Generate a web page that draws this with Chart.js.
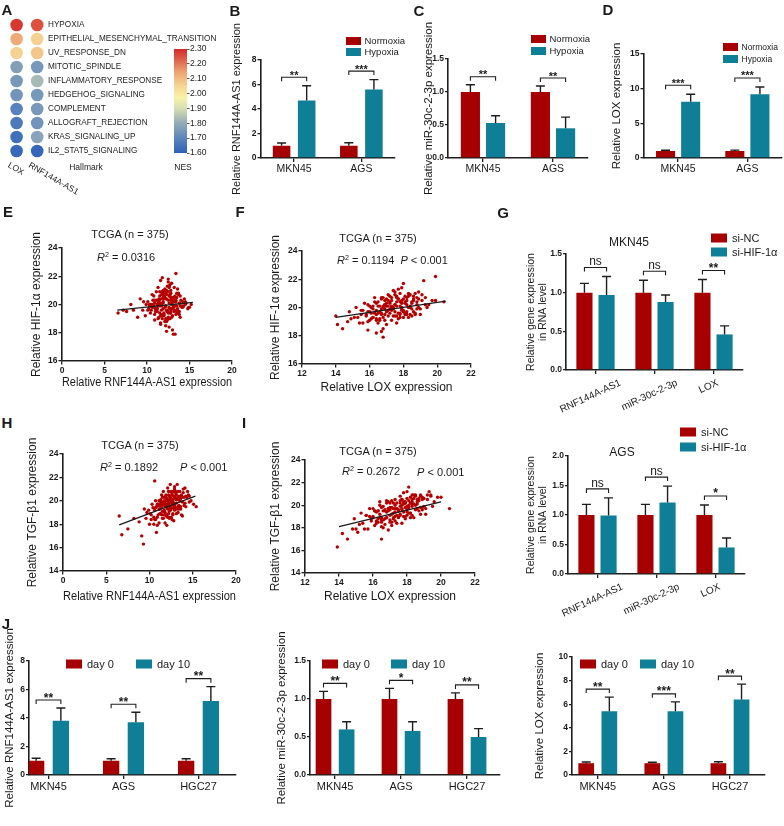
<!DOCTYPE html>
<html><head><meta charset="utf-8">
<script src="https://cdn.jsdelivr.net/npm/chart.js@4.4.1/dist/chart.umd.min.js"></script>
<style>
html,body{margin:0;padding:0;background:#fff}
body{width:784px;height:826px;position:relative;overflow:hidden;font-family:'Liberation Sans',Arial,Helvetica,sans-serif;color:#1a1a1a}
canvas{position:absolute}
.t{position:absolute;white-space:nowrap;line-height:1}
.t sup{font-size:65%;vertical-align:0.55em;line-height:0}
</style></head>
<body>
<script>
// ---------------- DATA ----------------
// Panel A
const hallmarks = ['HYPOXIA','EPITHELIAL_MESENCHYMAL_TRANSITION','UV_RESPONSE_DN','MITOTIC_SPINDLE','INFLAMMATORY_RESPONSE','HEDGEHOG_SIGNALING','COMPLEMENT','ALLOGRAFT_REJECTION','KRAS_SIGNALING_UP','IL2_STAT5_SIGNALING'];
const aGenes = ['LOX','RNF144A-AS1'];
const nesLOX = [2.28,2.13,2.06,1.77,1.75,1.74,1.69,1.67,1.64,1.62];
const nesRNF = [2.25,2.06,2.08,1.75,1.83,1.75,1.75,1.74,1.78,1.61];
const nesMin = 1.6, nesMax = 2.3;

// Panels B-D
const cells2 = ['MKN45','AGS'];
const oxLabels = ['Normoxia','Hypoxia'];
const bNorm = [1.0,1.0], bNormErr = [0.22,0.25], bHyp = [4.7,5.6], bHypErr = [1.2,0.8], bSig = ['**','***'];
const cNorm = [1.0,1.0], cNormErr = [0.11,0.09], cHyp = [0.53,0.45], cHypErr = [0.11,0.17], cSig = ['**','**'];
const dNorm = [1.0,1.0], dNormErr = [0.12,0.14], dHyp = [8.1,9.2], dHypErr = [1.1,1.05], dSig = ['***','***'];

// Scatter E (HIF-1a vs RNF144A-AS1)
const eX = [12.1,11.4,13.2,10.8,12.6,11.9,13.8,12.3,10.5,11.7,12.9,13.5,11.2,12.4,10.9,14.1,12.7,11.5,13.0,12.0,9.8,11.8,12.5,13.3,10.2,11.1,12.8,14.4,11.6,12.2,13.7,10.6,12.0,11.3,13.1,12.6,9.5,11.9,14.0,12.4,10.9,13.4,11.0,12.7,13.9,11.4,12.1,10.4,13.6,12.9,11.7,8.9,12.3,14.6,11.2,13.0,12.5,10.7,11.8,13.2,9.2,12.0,14.8,11.5,12.8,10.1,13.5,11.3,12.6,15.2,8.4,11.9,13.8,12.2,10.8,11.6,14.2,12.4,9.9,13.1,11.1,12.7,7.6,13.6,10.3,12.0,14.9,11.8,12.9,10.6,6.6,13.3,11.4,12.5,14.3,11.0,12.1,9.6,13.9,12.3,11.7,15.0,10.9,12.8,13.4,8.1,12.6,11.2,14.5,12.0,13.5,12.2,11.9,10.4,13.0,12.4,11.6,14.1,12.9,7.2,12.3,13.3,
  11.6,12.3,12.8,13.1,11.9,12.5,13.4,10.8,11.3,12.0,12.7,13.6,11.5,12.2,13.0,11.8,12.4,13.3,10.9,12.9,11.4,12.6,13.8,12.1,11.7,13.2,12.3,10.6,12.8,11.2,13.5,12.0,11.6,12.5,13.9,11.0,12.7,13.1,11.9,12.4,10.3,12.2,13.4,11.5,12.9,11.8,13.7,12.6,11.3,12.1,14.2,12.8,11.1,13.0,12.3,11.7,13.6,10.7,12.5,13.2,11.9,12.0,14.5,11.4,12.7,13.3,10.1,12.2,11.6,13.8];
const eY = [19.8,20.2,19.5,19.9,20.6,19.3,20.1,21.0,19.6,20.4,19.1,20.8,19.7,18.9,20.3,19.9,21.4,19.4,20.0,20.5,19.2,19.0,21.8,20.2,19.7,20.9,19.5,20.4,18.6,19.9,20.7,20.0,19.3,21.2,19.8,18.4,19.6,21.0,20.3,19.5,20.1,22.2,19.7,19.0,20.6,20.4,18.8,20.0,19.4,21.5,19.9,19.1,20.7,20.1,19.5,18.2,20.3,19.8,21.9,19.6,20.4,19.2,19.7,20.9,19.4,20.2,20.5,19.0,21.3,20.0,19.6,20.8,19.3,19.9,20.6,18.7,20.2,19.5,20.0,17.9,20.3,19.7,19.5,21.1,19.9,20.5,19.8,19.2,20.1,20.7,19.4,19.6,20.3,21.6,19.9,19.5,20.9,20.2,19.1,20.4,20.0,19.8,18.9,20.5,19.3,20.0,21.2,19.7,20.2,20.6,19.9,20.8,20.1,19.4,20.3,19.6,21.7,19.8,20.4,19.6,18.1,17.9,
  20.0,19.6,20.3,19.8,20.5,19.1,20.2,19.9,20.1,19.4,20.7,19.7,19.9,20.4,19.2,20.9,19.5,20.6,19.3,20.0,20.3,19.8,20.1,21.1,19.6,20.4,18.9,19.8,20.8,20.0,19.5,20.6,19.2,20.9,19.9,19.7,19.4,20.5,20.2,21.3,20.0,19.0,20.3,20.6,19.7,19.3,20.8,20.1,19.9,20.5,19.8,21.0,19.5,20.2,18.8,20.7,19.6,20.3,19.4,21.2,19.7,20.4,20.0,19.1,20.6,19.9,19.6,18.5,20.1,19.5];
const eLineX = [6.5,15.4], eLineY = [19.6,20.15];

// Scatter F (HIF-1a vs LOX)
const fX = [17.1,16.4,18.0,17.7,16.8,18.4,17.3,16.1,18.8,16.9,15.7,17.5,18.2,16.6,17.8,19.1,16.3,17.2,17.9,15.4,17.6,16.7,18.6,17.0,15.9,18.3,19.4,17.4,16.5,18.1,15.1,17.8,16.2,18.7,17.1,14.7,17.9,16.8,19.7,17.3,16.0,18.5,16.9,15.5,18.2,17.6,16.4,19.0,17.2,14.4,18.0,16.6,17.5,19.9,16.1,18.8,17.7,15.8,17.0,18.3,16.3,19.3,17.4,15.2,18.1,16.7,16.9,20.4,16.5,18.6,14.1,17.2,17.9,16.0,18.9,17.5,15.6,18.4,17.1,14.0,16.8,18.2,17.7,14.9,19.5,16.2,17.3,18.7,15.9,17.8,14.8,18.0,16.4,19.2,16.9,16.7,18.5,15.3,17.6,18.1,15.9,16.4,16.7,16.8,19.9,
  16.6,17.2,17.8,18.3,16.9,17.5,18.6,16.2,17.0,17.9,18.1,16.5,17.3,18.8,16.8,17.6,18.4,16.1,17.1,17.7,18.9,16.4,17.4,18.2,15.8,17.8,18.5,16.7,17.2,19.1,16.3,17.5,18.0,16.9,17.9,18.7,15.6,17.3,18.3,16.6,17.0,18.6,16.0,17.6,18.1,19.3,16.8,17.4,18.4,15.9,17.7,18.0,16.5,17.1,18.8,16.2,17.5,19.0,16.9,17.8,18.2,15.5,17.3,18.5,16.7,17.9,16.4,18.9,17.0,17.6];
const fY = [20.1,19.2,20.6,19.6,20.7,20.0,19.1,20.0,20.7,19.5,20.3,21.1,19.5,19.1,20.4,20.5,19.6,20.4,19.8,18.9,20.8,19.9,19.7,18.8,19.7,21.0,20.0,19.4,20.4,20.3,19.3,19.3,20.1,21.0,19.8,19.0,21.4,18.5,20.5,20.1,19.1,19.9,20.5,19.8,20.5,18.9,20.3,19.5,19.6,18.5,21.7,20.1,19.7,20.5,19.2,19.9,20.6,19.5,20.1,19.3,20.7,20.7,19.9,20.0,19.6,19.6,20.2,20.4,18.9,20.6,18.8,20.8,19.9,20.1,20.0,20.2,18.9,20.9,19.4,19.4,20.1,20.2,21.3,19.2,20.2,19.3,20.5,19.5,20.2,20.1,19.7,19.7,19.5,21.9,19.1,20.7,20.4,19.3,20.1,20.8,18.4,18.2,18.3,17.9,22.2,
  19.7,20.3,19.6,20.8,20.2,19.4,20.5,19.9,20.6,20.0,19.5,20.1,19.8,20.4,19.3,20.7,20.1,19.6,20.9,19.2,20.6,19.8,20.0,19.7,19.4,21.0,20.3,19.5,19.9,20.9,20.4,20.2,19.3,19.9,20.5,19.6,19.8,20.7,20.0,19.2,20.3,20.8,19.7,19.4,20.4,20.2,20.0,21.2,19.5,19.0,20.6,19.8,19.6,20.5,20.2,19.3,20.9,19.9,20.1,19.5,20.7,19.5,20.0,19.4,20.6,20.3,19.1,21.1,19.7,20.4];
const fLineX = [14.0,20.5], fLineY = [19.3,20.45];

// Scatter H (TGF-b1 vs RNF144A-AS1)
const hX = [11.8,12.4,10.9,13.1,11.5,12.7,10.2,13.6,12.0,11.3,14.2,12.9,10.7,11.9,13.3,12.2,9.6,11.1,12.8,13.9,10.4,12.5,11.7,14.6,12.1,10.9,13.4,11.4,12.6,9.9,13.0,11.6,12.3,15.1,10.6,12.9,11.2,13.7,12.0,8.8,11.8,13.2,10.1,12.4,14.0,11.5,12.7,9.3,13.5,12.2,10.8,11.9,14.4,12.6,11.0,13.8,12.3,8.2,11.7,13.1,12.8,10.5,14.8,11.3,12.1,13.6,9.7,12.5,11.4,15.4,7.5,12.0,13.3,10.3,12.7,11.6,14.1,12.9,9.1,13.0,11.2,12.4,6.5,13.8,10.7,12.2,14.5,11.9,6.8,12.6,13.4,11.1,12.8,9.4,14.2,12.0,10.0,13.1,11.5,12.3,10.6,
  11.9,12.5,13.0,11.4,12.2,13.5,10.8,12.7,11.6,13.2,12.0,12.9,11.1,13.8,12.4,11.7,13.3,10.5,12.6,11.3,12.8,13.6,11.8,12.1,13.1,10.9,12.3,14.0,11.5,12.9,13.4,11.0,12.6,12.2,13.7,11.9,10.6,12.4,13.0,11.4,12.7,14.3,11.2,12.0,13.2,11.7,12.5,10.2,13.9,12.8,11.6,13.5,12.3,11.1,14.6,12.1,13.1,11.8,12.6,10.7,13.3,12.4,11.5,12.9,13.6,11.3,12.2,14.1,11.9,12.7];
const hY = [19.8,20.2,18.6,20.7,19.1,20.8,18.8,20.4,18.8,19.9,20.4,19.3,20.0,19.6,19.0,20.8,18.5,18.1,19.8,21.0,19.4,18.6,20.3,20.4,19.3,17.9,20.4,18.8,20.1,19.2,19.4,20.8,19.1,19.7,18.4,21.2,19.3,18.8,20.2,18.2,18.1,21.4,18.9,19.5,19.6,19.9,18.9,16.3,20.1,19.8,17.3,20.5,20.8,18.4,19.7,19.9,20.4,18.5,19.1,18.9,20.4,18.0,20.0,19.6,21.1,19.5,19.0,19.8,20.5,19.5,17.6,17.9,20.3,19.7,19.9,18.5,21.1,19.6,17.0,20.7,18.9,21.4,18.7,18.7,19.4,18.6,20.5,20.0,17.1,20.6,19.3,19.6,18.3,19.3,19.5,19.5,18.0,20.1,20.3,19.3,21.7,
  19.7,19.3,20.2,19.5,18.9,20.8,19.5,19.7,18.8,20.1,20.1,19.2,19.3,20.3,19.9,19.2,20.8,18.6,19.4,20.1,20.2,19.3,19.6,18.6,19.8,19.7,20.1,20.3,18.5,20.4,19.6,18.8,20.5,19.7,20.5,18.7,19.2,19.2,20.8,19.7,18.8,20.3,19.7,19.4,19.3,20.0,20.8,18.4,20.7,19.4,19.8,20.0,18.5,20.0,19.9,20.0,20.5,19.0,19.9,18.4,19.5,20.3,19.6,21.0,20.2,18.9,20.5,19.8,20.4,20.0];
const hLineX = [6.5,15.3], hLineY = [17.95,20.4];

// Scatter I (TGF-b1 vs LOX)
const iX = [17.2,16.5,18.1,17.8,16.9,18.5,17.4,16.2,18.9,17.0,15.8,17.6,18.3,16.7,17.9,19.2,16.4,17.3,18.0,15.5,17.7,16.8,18.7,17.1,16.0,18.4,19.5,17.5,16.6,18.2,15.2,17.9,16.3,18.8,17.2,14.8,18.0,16.9,19.8,17.4,16.1,18.6,17.0,15.6,18.3,17.7,16.5,19.1,17.3,14.5,18.1,16.7,17.6,20.0,16.2,18.9,17.8,15.9,17.1,18.4,16.4,19.4,17.5,15.3,18.2,16.8,17.0,20.5,16.6,18.7,14.2,17.3,18.0,16.1,19.0,17.6,15.7,18.5,17.2,13.9,16.9,18.3,17.8,15.0,19.6,16.3,17.4,18.8,16.0,17.9,14.9,18.1,16.5,19.3,17.0,16.8,18.6,15.4,17.7,18.2,16.5,15.1,
  17.3,16.8,17.9,18.4,17.0,17.6,18.7,16.4,17.2,18.1,18.3,16.6,17.5,18.9,16.9,17.8,18.5,16.2,17.1,17.7,19.0,16.5,17.4,18.2,16.0,17.9,18.6,16.7,17.3,19.2,16.3,17.6,18.0,16.9,18.0,18.8,15.8,17.4,18.3,16.6,17.1,18.6,16.1,17.7,18.2,19.4,16.8,17.5,18.4,15.9,17.8,18.1,16.5,17.2,18.9,16.3,17.6,19.1,17.0,17.9,18.3,15.6,17.3,18.5,16.7,18.0,16.4,18.8,17.1,17.7];
const iY = [19.7,18.7,20.4,19.0,20.3,20.0,18.4,19.4,20.7,19.1,19.7,20.8,19.1,18.3,20.2,20.5,18.9,20.0,19.4,17.9,20.5,19.4,19.5,18.2,19.0,20.9,19.9,18.9,19.9,20.2,18.3,18.8,19.5,20.9,19.3,17.9,21.2,17.8,20.7,19.7,18.2,19.7,20.2,19.1,20.3,18.4,19.8,19.2,19.0,17.0,21.6,19.6,19.2,20.7,18.4,19.6,20.3,18.8,19.8,18.9,20.3,20.8,19.5,19.3,19.3,18.9,19.8,19.7,18.0,20.6,17.5,20.5,19.6,19.5,19.9,19.9,17.9,20.8,18.8,16.3,19.7,19.9,21.1,17.9,20.3,18.5,20.2,19.2,19.7,19.8,18.8,19.3,18.9,21.2,18.5,20.2,20.3,18.4,19.7,20.7,17.0,17.6,
  19.7,18.9,20.2,20.1,18.7,20.4,20.4,19.2,18.9,20.0,20.5,18.7,19.6,20.5,19.7,19.4,20.9,18.6,19.2,20.5,20.6,18.5,19.7,18.9,18.9,20.3,20.5,19.5,18.6,20.9,18.8,19.1,20.6,19.5,19.1,19.8,19.0,19.1,20.9,19.5,18.5,20.1,19.5,19.6,19.3,20.9,20.4,19.0,20.6,18.6,20.1,19.8,18.1,20.2,19.8,19.5,20.2,19.7,19.6,19.0,20.1,19.1,19.4,19.6,18.8,19.9,20.0,20.8,20.4,20.0];
const iLineX = [14.0,20.0], iLineY = [18.1,20.3];

// Panel G
const genesG = ['RNF144A-AS1','miR-30c-2-3p','LOX'];
const siLabels = ['si-NC','si-HIF-1\u03b1'];
const gMkNC = [1.0,1.0,1.0], gMkNCErr = [0.12,0.16,0.17], gMkHIF = [0.97,0.88,0.46], gMkHIFErr = [0.24,0.09,0.11], gMkSig = ['ns','ns','**'];
const gAgNC = [1.0,1.0,1.0], gAgNCErr = [0.18,0.18,0.17], gAgHIF = [0.99,1.21,0.45], gAgHIFErr = [0.3,0.28,0.16], gAgSig = ['ns','ns','*'];

// Panel J
const cells3 = ['MKN45','AGS','HGC27'];
const dayLabels = ['day 0','day 10'];
const j1D0 = [1.0,1.0,1.0], j1D0Err = [0.18,0.14,0.14], j1D10 = [3.8,3.7,5.2], j1D10Err = [0.9,0.7,1.0], j1Sig = ['**','**','**'];
const j2D0 = [1.0,1.0,1.0], j2D0Err = [0.1,0.14,0.08], j2D10 = [0.6,0.58,0.5], j2D10Err = [0.1,0.12,0.11], j2Sig = ['**','*','**'];
const j3D0 = [1.0,1.0,1.0], j3D0Err = [0.1,0.08,0.12], j3D10 = [5.4,5.4,6.4], j3D10Err = [1.2,0.8,1.3], j3Sig = ['**','***','**'];

// ---------------- STYLE / HELPERS ----------------
const FONT = "'Liberation Sans', Arial, Helvetica, sans-serif";
const RED = '#a60000', TEAL = '#0f7f97', AX = '#1e1e1e', TX = '#1a1a1a', PT = '#b50000';
Chart.defaults.font.family = FONT;
Chart.defaults.color = TX;
const BASE = {responsive:false, animation:false, devicePixelRatio:1, events:[]};
const NES_STOPS = [[1.60,[47,98,184]],[1.70,[92,133,190]],[1.80,[148,170,182]],[1.90,[214,222,178]],[1.97,[247,242,168]],[2.05,[246,214,150]],[2.15,[236,160,112]],[2.30,[212,40,40]]];
function nesColor(v){
  for(let k=1;k<NES_STOPS.length;k++){
    const [v1,c1]=NES_STOPS[k-1],[v2,c2]=NES_STOPS[k];
    if(v<=v2||k===NES_STOPS.length-1){
      const t=Math.max(0,Math.min(1,(v-v1)/(v2-v1)));
      return 'rgb('+c1.map((c,j)=>Math.round(c+(c2[j]-c)*t)).join(',')+')';
    }
  }
}
function mk(x,y,w,h){
  const c=document.createElement('canvas');
  c.width=w;c.height=h;
  Object.assign(c.style,{left:x+'px',top:y+'px',width:w+'px',height:h+'px'});
  document.body.appendChild(c);return c;
}
function txt(html,x,y,size,o={}){
  const d=document.createElement('div');
  d.className='t';d.innerHTML=html;
  d.style.left=x+'px';d.style.top=y+'px';d.style.fontSize=size+'px';
  if(o.bold)d.style.fontWeight='bold';
  d.style.transform=o.left?'translate(0,-50%)':'translate(-50%,-50%)';
  document.body.appendChild(d);
}
function makeDeco(o,cx,cy){
  return {id:'deco',afterDatasetsDraw(chart){
    const ctx=chart.ctx, ys=chart.scales.y, xs=chart.scales.x, ds=chart.data.datasets;
    const cap=o.cap||4.5;
    const val=(d,i)=>d.vals[i]+d.err[i];
    ds.forEach((d,di)=>chart.getDatasetMeta(di).data.forEach((el,i)=>{
      const top=ys.getPixelForValue(val(d,i));
      ctx.save();ctx.strokeStyle=AX;ctx.lineWidth=1.4;ctx.beginPath();
      ctx.moveTo(el.x,el.y);ctx.lineTo(el.x,top);
      ctx.moveTo(el.x-cap,top);ctx.lineTo(el.x+cap,top);ctx.stroke();ctx.restore();
    }));
    if(o.sig){
      const a=chart.getDatasetMeta(0).data,b=chart.getDatasetMeta(1).data;
      o.sig.forEach((s,i)=>{
        const yb=Math.min(ys.getPixelForValue(val(ds[0],i)),ys.getPixelForValue(val(ds[1],i)))-(o.gap||8);
        ctx.save();ctx.strokeStyle=AX;ctx.lineWidth=1.1;ctx.beginPath();
        ctx.moveTo(a[i].x,yb+4);ctx.lineTo(a[i].x,yb);ctx.lineTo(b[i].x,yb);ctx.lineTo(b[i].x,yb+4);ctx.stroke();
        ctx.fillStyle=TX;ctx.textAlign='center';ctx.textBaseline='alphabetic';
        const ns=s==='ns';
        ctx.font=(ns?'':'bold ')+(ns?(o.nsSize||11):(o.sigSize||11))+'px '+FONT;
        ctx.fillText(s,(a[i].x+b[i].x)/2,ns?yb-2:yb+1.5);
        ctx.restore();
      });
    }
    if(o.legend){
      const L=o.legend;
      ds.forEach((d,di)=>{
        const x=L.pos[di][0]-cx,y=L.pos[di][1]-cy;
        ctx.save();ctx.fillStyle=d.backgroundColor;ctx.fillRect(x,y-L.bh/2,L.bw,L.bh);
        ctx.fillStyle=TX;ctx.font=L.size+'px '+FONT;ctx.textAlign='left';ctx.textBaseline='middle';
        ctx.fillText(d.label,x+L.bw+L.gap,y+0.5);ctx.restore();
      });
    }
    if(o.rot){
      const ang=o.rot*Math.PI/180, fs=o.catSize||10;
      ctx.save();ctx.font=fs+'px '+FONT;ctx.fillStyle=TX;
      chart.data.labels.forEach((lab,i)=>{
        const x=xs.getPixelForTick(i);
        const w=ctx.measureText(lab).width,h=fs*0.75;
        const px=x+(o.rotDx||-5), py=chart.chartArea.bottom+(o.rotTop||9)+w/2*Math.sin(ang)+h/2*Math.cos(ang);
        ctx.save();ctx.translate(px,py);ctx.rotate(-ang);ctx.textAlign='center';ctx.textBaseline='middle';ctx.fillText(lab,0,0);ctx.restore();
      });
      ctx.restore();
    }
  }};
}
function barChart(o){
  const lh=o.ySize*(o.yLH||1.2);
  const cx=Math.round(o.yTitleX-lh/2), cy=o.top;
  const cw=Math.round(o.area.R+(o.padR??6)-cx), ch=o.bottom-cy;
  const c=mk(cx,cy,cw,ch);
  const yW=o.area.L-cx, xH=cy+ch-o.area.B;
  const lin=!!o.xr;
  const xTicks={display:!o.rot,font:{size:o.catSize||10.5},color:TX,padding:1,maxRotation:0,autoSkip:false};
  const xScale=lin
    ? {type:'linear',min:o.xr[0],max:o.xr[1],offset:false,
       afterBuildTicks:s=>{s.ticks=o.labels.map((l,i)=>({value:i}));},
       ticks:{...xTicks,callback:v=>o.labels[v]}}
    : {ticks:xTicks};
  new Chart(c,{
    type:'bar',
    data:{labels:o.labels,datasets:o.series.map(s=>({label:s.label,vals:s.data,
      data:lin?s.data.map((v,i)=>({x:i,y:v})):s.data,err:s.err,backgroundColor:s.color,borderWidth:0,categoryPercentage:o.cp,barPercentage:o.bp}))},
    options:{...BASE,
      layout:{padding:{left:0,top:o.area.T-cy,right:cx+cw-o.area.R,bottom:0}},
      plugins:{legend:{display:false},tooltip:{enabled:false}},
      scales:{
        x:{...xScale,grid:{offset:false,drawOnChartArea:false,tickLength:4,color:AX,lineWidth:1.3},border:{color:AX,width:1.6},
           afterFit:s=>{s.height=xH;}},
        y:{min:o.yMin,max:o.yMax,
           ticks:{stepSize:o.yStep,font:{size:8.5,weight:'bold'},color:TX,padding:1,callback:v=>o.fmt?v.toFixed(o.fmt):v},
           grid:{drawOnChartArea:false,tickLength:3,color:AX,lineWidth:1.3},border:{color:AX,width:1.6},
           title:{display:true,text:o.yTitle,font:{size:o.ySize,lineHeight:o.yLH||1.2},color:TX,padding:0},
           afterFit:s=>{s.width=yW;}}
      }},
    plugins:[makeDeco(o,cx,cy)]
  });
}
function scatterChart(o){
  const lh=o.ySize*1.2, xlh=o.xSize*1.2;
  const cx=Math.round(o.yTitleX-lh/2), cy=o.area.T-30;
  const cw=Math.round(o.area.R+12-cx), ch=Math.round(o.xTitleY+xlh/2-cy);
  const c=mk(cx,cy,cw,ch);
  const yW=o.area.L-cx, xH=cy+ch-o.area.B;
  const tk={font:{size:8.5,weight:'bold'},color:TX,padding:1};
  const gr={drawOnChartArea:false,tickLength:3.5,color:AX,lineWidth:1.3};
  new Chart(c,{
    type:'scatter',
    data:{datasets:[
      {data:o.lx.map((x,i)=>({x,y:o.ly[i]})),showLine:true,borderColor:'#1a1a1a',borderWidth:1.3,pointRadius:0},
      {data:o.xs.map((x,i)=>({x,y:o.ys[i]})),pointRadius:1.7,backgroundColor:PT,borderColor:PT,borderWidth:0}
    ]},
    options:{...BASE,
      layout:{padding:{left:0,top:o.area.T-cy,right:cx+cw-o.area.R,bottom:0}},
      plugins:{legend:{display:false},tooltip:{enabled:false}},
      scales:{
        x:{type:'linear',min:o.xMin,max:o.xMax,ticks:{...tk,stepSize:o.xStep},grid:gr,border:{color:AX,width:1.6},
           title:{display:true,text:o.xTitle,font:{size:o.xSize},color:TX,padding:0},afterFit:s=>{s.height=xH;}},
        y:{type:'linear',min:o.yMin,max:o.yMax,ticks:{...tk,stepSize:2},grid:gr,border:{color:AX,width:1.6},
           title:{display:true,text:o.yTitle,font:{size:o.ySize},color:TX,padding:0},afterFit:s=>{s.width=yW;}}
      }}
  });
}

// ---------------- PANEL A ----------------
(function(){
  const W=232,H=205;
  const c=mk(0,0,W,H);
  new Chart(c,{
    type:'scatter',
    data:{datasets:[
      {data:hallmarks.map((h,i)=>({x:0,y:i})),pointRadius:6.3,backgroundColor:nesLOX.map(nesColor),borderWidth:0},
      {data:hallmarks.map((h,i)=>({x:1,y:i})),pointRadius:6.3,backgroundColor:nesRNF.map(nesColor),borderWidth:0}
    ]},
    options:{...BASE,
      layout:{padding:{left:1.5,top:18,bottom:H-158,right:0}},
      plugins:{legend:{display:false},tooltip:{enabled:false}},
      scales:{
        x:{type:'linear',min:-0.5,max:1.5,display:false},
        y:{type:'linear',position:'right',reverse:true,min:-0.5,max:9.5,
           afterBuildTicks:s=>{s.ticks=hallmarks.map((h,i)=>({value:i}));},
           ticks:{callback:v=>hallmarks[v],font:{size:8.2},color:'#222',padding:0.5,autoSkip:false},
           grid:{display:false,drawTicks:false},border:{display:false},
           afterFit:s=>{s.width=W-47.5;}}
      }},
    plugins:[{id:'geneLabels',afterDraw(chart){
      const ctx=chart.ctx;ctx.save();ctx.font='8.5px '+FONT;ctx.fillStyle='#222';
      aGenes.forEach((g,i)=>{
        const x=chart.scales.x.getPixelForValue(i)-6;
        ctx.save();ctx.translate(x,161);ctx.rotate(30*Math.PI/180);ctx.textAlign='left';ctx.textBaseline='top';ctx.fillText(g,0,0);ctx.restore();
      });
      ctx.restore();
    }}]
  });
  // colour bar
  const cb=mk(168,40,47,125);
  new Chart(cb,{
    type:'scatter',data:{datasets:[]},
    options:{...BASE,
      layout:{padding:{left:6,top:9,bottom:12,right:0}},
      plugins:{legend:{display:false},tooltip:{enabled:false}},
      scales:{
        x:{type:'linear',min:0,max:1,display:false},
        y:{type:'linear',position:'right',min:nesMin,max:nesMax,
           ticks:{stepSize:0.1,callback:v=>v.toFixed(2),font:{size:8.5},color:'#222',padding:0.5},
           grid:{drawOnChartArea:false,tickLength:2.5,color:'#555',lineWidth:1},border:{display:false},
           afterFit:s=>{s.width=28;}}
      }},
    plugins:[{id:'grad',beforeDatasetsDraw(chart){
      const {left,right,top,bottom}=chart.chartArea,ctx=chart.ctx;
      const g=ctx.createLinearGradient(0,bottom,0,top);
      NES_STOPS.forEach(([v])=>g.addColorStop((v-nesMin)/(nesMax-nesMin),nesColor(v)));
      ctx.fillStyle=g;ctx.fillRect(left,top,right-left,bottom-top);
    }}]
  });
})();

// ---------------- PANELS B-D ----------------
barChart({labels:cells2,series:[{label:oxLabels[0],data:bNorm,err:bNormErr,color:RED},{label:oxLabels[1],data:bHyp,err:bHypErr,color:TEAL}],
  area:{L:260.5,T:60,R:395,B:158},top:14,bottom:200,padR:14,yTitleX:237,ySize:11,yTitle:'Relative RNF144A-AS1 expression',
  yMin:0,yMax:8,yStep:2,cp:0.746,bp:0.7,sig:bSig,gap:8.5,sigSize:11,
  legend:{pos:[[346,41],[346,52]],bw:15,bh:8,size:9.5,gap:3.5}});
barChart({labels:cells2,series:[{label:oxLabels[0],data:cNorm,err:cNormErr,color:RED},{label:oxLabels[1],data:cHyp,err:cHypErr,color:TEAL}],
  area:{L:448,T:59,R:588,B:158},top:14,bottom:200,padR:8,yTitleX:429,ySize:11.5,yTitle:'Relative miR-30c-2-3p expression',
  yMin:0,yMax:1.5,yStep:0.5,fmt:1,cp:0.72,bp:0.76,sig:cSig,gap:8,sigSize:11,
  legend:{pos:[[531,39],[531,51]],bw:15,bh:8,size:9.5,gap:3.5}});
barChart({labels:cells2,series:[{label:oxLabels[0],data:dNorm,err:dNormErr,color:RED},{label:oxLabels[1],data:dHyp,err:dHypErr,color:TEAL}],
  area:{L:643.5,T:54,R:782,B:158},top:14,bottom:200,padR:2,yTitleX:617,ySize:11.5,yTitle:'Relative LOX expression',
  yMin:0,yMax:15,yStep:5,cp:0.725,bp:0.76,sig:dSig,gap:9,sigSize:11,
  legend:{pos:[[723,47],[723,59]],bw:15,bh:8,size:8.5,gap:3.5}});

// ---------------- SCATTERS ----------------
scatterChart({xs:eX,ys:eY,lx:eLineX,ly:eLineY,area:{L:62,T:248,R:232,B:361},xMin:0,xMax:20,xStep:5,yMin:16,yMax:24,
  yTitleX:36,ySize:12,yTitle:'Relative HIF-1\u03b1 expression',xTitleY:383,xSize:12,xTitle:'Relative RNF144A-AS1 expression'});
scatterChart({xs:fX,ys:fY,lx:fLineX,ly:fLineY,area:{L:302,T:251,R:471,B:364},xMin:12,xMax:22,xStep:2,yMin:16,yMax:24,
  yTitleX:275,ySize:12,yTitle:'Relative HIF-1\u03b1 expression',xTitleY:388,xSize:12,xTitle:'Relative LOX expression'});
scatterChart({xs:hX,ys:hY,lx:hLineX,ly:hLineY,area:{L:63,T:454,R:236,B:571},xMin:0,xMax:20,xStep:5,yMin:14,yMax:24,
  yTitleX:32,ySize:12,yTitle:'Relative TGF-\u03b21 expression',xTitleY:597,xSize:12,xTitle:'Relative RNF144A-AS1 expression'});
scatterChart({xs:iX,ys:iY,lx:iLineX,ly:iLineY,area:{L:305,T:460,R:475,B:573},xMin:12,xMax:22,xStep:2,yMin:14,yMax:24,
  yTitleX:275,ySize:12,yTitle:'Relative TGF-\u03b21 expression',xTitleY:597,xSize:12,xTitle:'Relative LOX expression'});

// ---------------- PANEL G ----------------
barChart({labels:genesG,series:[{label:siLabels[0],data:gMkNC,err:gMkNCErr,color:RED},{label:siLabels[1],data:gMkHIF,err:gMkHIFErr,color:TEAL}],
  area:{L:566,T:254,R:743,B:370},top:232,bottom:428,padR:40,yTitleX:531,ySize:10.5,yLH:1.15,yTitle:['Relative gene expression','in RNA level'],
  yMin:0,yMax:1.5,yStep:0.5,fmt:1,cp:0.75,bp:0.73,sig:gMkSig,gap:9,sigSize:12,nsSize:12,rot:25,catSize:10,
  legend:{pos:[[711,238],[711,252]],bw:16,bh:9,size:11,gap:5}});
barChart({labels:genesG,series:[{label:siLabels[0],data:gAgNC,err:gAgNCErr,color:RED},{label:siLabels[1],data:gAgHIF,err:gAgHIFErr,color:TEAL}],
  area:{L:568,T:456,R:745,B:574},top:425,bottom:640,padR:38,yTitleX:531,ySize:10.5,yLH:1.15,yTitle:['Relative gene expression','in RNA level'],
  yMin:0,yMax:2,yStep:0.5,fmt:1,cp:0.75,bp:0.73,sig:gAgSig,gap:9,sigSize:12,nsSize:12,rot:25,catSize:10,
  legend:{pos:[[680,432],[680,447]],bw:16,bh:9,size:11,gap:5}});

// ---------------- PANEL J ----------------
barChart({labels:cells3,series:[{label:dayLabels[0],data:j1D0,err:j1D0Err,color:RED},{label:dayLabels[1],data:j1D10,err:j1D10Err,color:TEAL}],
  area:{L:29,T:661,R:236,B:775},top:625,bottom:826,padR:8,yTitleX:10,ySize:11.5,yTitle:'Relative RNF144A-AS1 expression',xr:[-0.26,2.5],
  yMin:0,yMax:8,yStep:2,cp:0.66,bp:0.66,sig:j1Sig,gap:8,sigSize:12,catSize:11,
  legend:{pos:[[66,664],[136,664]],bw:16,bh:9,size:11,gap:5}});
barChart({labels:cells3,series:[{label:dayLabels[0],data:j2D0,err:j2D0Err,color:RED},{label:dayLabels[1],data:j2D10,err:j2D10Err,color:TEAL}],
  area:{L:310,T:661,R:500,B:775},top:625,bottom:826,padR:8,yTitleX:282,ySize:11.5,yTitle:'Relative miR-30c-2-3p expression',xr:[-0.38,2.5],
  yMin:0,yMax:1.5,yStep:0.5,fmt:1,cp:0.7,bp:0.68,sig:j2Sig,gap:8,sigSize:12,catSize:11,
  legend:{pos:[[322,664],[391,664]],bw:16,bh:9,size:11,gap:5}});
barChart({labels:cells3,series:[{label:dayLabels[0],data:j3D0,err:j3D0Err,color:RED},{label:dayLabels[1],data:j3D10,err:j3D10Err,color:TEAL}],
  area:{L:572,T:657,R:765,B:775},top:625,bottom:826,padR:10,yTitleX:540,ySize:11.5,yTitle:'Relative LOX expression',xr:[-0.39,2.53],
  yMin:0,yMax:10,yStep:2,cp:0.7,bp:0.68,sig:j3Sig,gap:8,sigSize:12,catSize:11,
  legend:{pos:[[580,664],[640,664]],bw:16,bh:9,size:11,gap:5}});

// ---------------- TEXT ----------------
[['A',7,9],['B',235,10],['C',419,10],['D',608,9],['E',8,211],['F',240,211],['G',503,212],['H',7,422],['I',244,422],['J',6,623]]
  .forEach(([l,x,y])=>txt(l,x,y,15,{bold:true}));
txt('Hallmark',86,167,8.5);
txt('NES',183,167,8.5);
txt('TCGA (n = 375)',130,234,11);
txt('<i>R</i><sup>2</sup> = 0.0316',97,257,11,{left:true});
txt('TCGA (n = 375)',378,238,11);
txt('<i>R</i><sup>2</sup> = 0.1194&nbsp;&nbsp;<i>P</i> &lt; 0.001',337,260,11,{left:true});
txt('TCGA (n = 375)',140,445,11);
txt('<i>R</i><sup>2</sup> = 0.1892',100,467,11,{left:true});
txt('<i>P</i> &lt; 0.001',180,467,11,{left:true});
txt('TCGA (n = 375)',378,451,11);
txt('<i>R</i><sup>2</sup> = 0.2672',342,471,11,{left:true});
txt('<i>P</i> &lt; 0.001',417,472,11,{left:true});
txt('MKN45',629,242,12);
txt('AGS',622,452,12);
</script>
</body></html>
